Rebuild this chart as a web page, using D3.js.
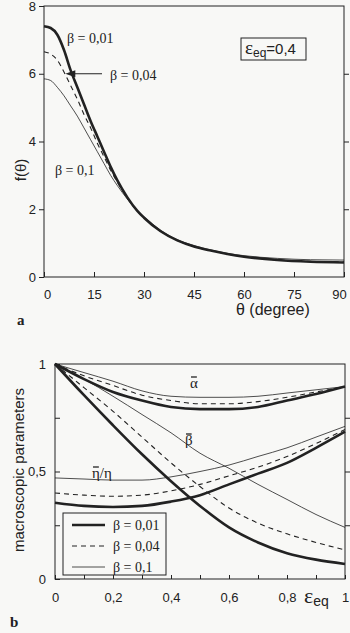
<!DOCTYPE html>
<html>
<head>
<meta charset="utf-8">
<script src="https://cdn.jsdelivr.net/npm/d3@7"></script>
<style>
  body { margin: 0; background: #f8f8f6; }
  svg { display: block; }
</style>
</head>
<body>
<div class="canvas"></div>
<script>
// ---- data (a): f(theta) for three beta values
const thetaA = [0, 2, 4, 6, 8, 10, 12, 14, 16, 18, 20, 22, 25, 28, 30, 35, 40, 45, 50, 55, 60, 70, 80, 90];
const fBeta001 = [7.4, 7.35, 7.15, 6.7, 6.1, 5.6, 5.1, 4.6, 4.15, 3.7, 3.25, 2.85, 2.35, 1.95, 1.75, 1.35, 1.08, 0.9, 0.78, 0.68, 0.6, 0.5, 0.45, 0.43];
const fBeta004 = [6.65, 6.58, 6.4, 6.05, 5.65, 5.25, 4.8, 4.4, 3.95, 3.55, 3.15, 2.8, 2.33, 1.95, 1.75, 1.35, 1.08, 0.9, 0.78, 0.68, 0.6, 0.51, 0.46, 0.45];
const fBeta01  = [5.85, 5.8, 5.6, 5.35, 5.05, 4.75, 4.4, 4.05, 3.7, 3.35, 3.0, 2.7, 2.3, 1.95, 1.78, 1.38, 1.1, 0.93, 0.8, 0.7, 0.63, 0.55, 0.51, 0.5];
const thetaTicks = [0, 15, 30, 45, 60, 75, 90];
const fTicks = [0, 2, 4, 6, 8];

// ---- data (b): macroscopic parameters vs eps_eq
const epsB = [0, 0.1, 0.2, 0.3, 0.4, 0.5, 0.6, 0.7, 0.8, 0.9, 1.0];
const alpha001 = [1, 0.93, 0.87, 0.83, 0.8, 0.79, 0.79, 0.8, 0.83, 0.86, 0.895];
const alpha004 = [1, 0.945, 0.9, 0.855, 0.83, 0.815, 0.815, 0.825, 0.845, 0.87, 0.895];
const alpha01  = [1, 0.96, 0.92, 0.875, 0.85, 0.845, 0.845, 0.85, 0.865, 0.88, 0.895];
const beta001 = [1, 0.855, 0.715, 0.58, 0.455, 0.34, 0.24, 0.17, 0.12, 0.09, 0.07];
const beta004 = [1, 0.89, 0.78, 0.66, 0.54, 0.43, 0.33, 0.26, 0.21, 0.17, 0.135];
const beta01  = [1, 0.93, 0.85, 0.765, 0.68, 0.585, 0.515, 0.44, 0.37, 0.3, 0.24];
const eta001 = [0.355, 0.34, 0.335, 0.34, 0.36, 0.39, 0.44, 0.49, 0.54, 0.61, 0.685];
const eta004 = [0.4, 0.39, 0.385, 0.39, 0.41, 0.44, 0.48, 0.52, 0.57, 0.63, 0.695];
const eta01  = [0.47, 0.465, 0.46, 0.46, 0.475, 0.5, 0.53, 0.57, 0.61, 0.66, 0.71];
const epsTicks = [0, 0.1, 0.2, 0.3, 0.4, 0.5, 0.6, 0.7, 0.8, 0.9, 1];
const epsLabels = [0, 0.2, 0.4, 0.6, 0.8, 1];
const parTicks = [0, 0.25, 0.5, 0.75, 1];
const parLabels = [0, 0.5, 1];

const legendNames = ["β = 0,01", "β = 0,04", "β = 0,1"];

const ink = "#222";
const bg = "#f8f8f6";
const sans = "'Liberation Sans', Arial, sans-serif";
const serif = "'Liberation Serif', 'Times New Roman', serif";
const styles = [
  {w: 2.6, dash: null},
  {w: 1.1, dash: "5,4"},
  {w: 0.8, dash: null}
];
const comma = d => String(d).replace(".", ",");

const svg = d3.select('.canvas')
  .append('svg')
  .attr('width', 350)
  .attr('height', 633);

svg.append('rect').attr('width', 350).attr('height', 633).attr('fill', bg);

// ================= panel a =================
const xA = d3.scaleLinear().domain([0, 90]).range([44, 344]);
const yA = d3.scaleLinear().domain([0, 8]).range([277, 6]);

const gA = svg.append('g');
gA.append('rect')
  .attr('x', xA(0)).attr('y', yA(8))
  .attr('width', xA(90) - xA(0)).attr('height', yA(0) - yA(8))
  .attr('fill', 'none').attr('stroke', ink).attr('stroke-width', 1);

const axA_bottom = gA.append('g').attr('transform', `translate(0,${yA(0)})`)
  .call(d3.axisBottom(xA).tickValues(thetaTicks).tickSize(-5).tickPadding(13).tickFormat(d3.format('d')));
// nudge end labels inwards like the print
axA_bottom.selectAll('.tick text').attr('dx', d => d === 0 ? 3 : d === 90 ? -5 : 0);
gA.append('g').attr('transform', `translate(${xA(0)},0)`)
  .call(d3.axisLeft(yA).tickValues(fTicks).tickSize(5).tickPadding(3).tickFormat(d3.format('d')));
gA.append('g').attr('transform', `translate(${xA(90)},0)`)
  .call(d3.axisLeft(yA).tickValues([2, 4, 6]).tickSize(-5).tickFormat(''));

const lineA = d3.line().curve(d3.curveMonotoneX);
[fBeta001, fBeta004, fBeta01].forEach((vals, i) => {
  gA.append('path')
    .datum(thetaA.map((t, j) => [xA(t), yA(vals[j])]))
    .attr('d', lineA)
    .attr('fill', 'none')
    .attr('stroke', ink)
    .attr('stroke-width', styles[i].w)
    .attr('stroke-dasharray', styles[i].dash);
});

// curve labels
gA.append('text').attr('x', 67).attr('y', 43).text(legendNames[0])
  .attr('font-family', serif).attr('font-size', 14).attr('fill', ink);
gA.append('text').attr('x', 110).attr('y', 80).text(legendNames[1])
  .attr('font-family', serif).attr('font-size', 14).attr('fill', ink);
gA.append('text').attr('x', 55).attr('y', 175).text(legendNames[2])
  .attr('font-family', serif).attr('font-size', 14).attr('fill', ink);

// arrow pointing at the dashed curve
const ay = yA(6), tipX = xA(6.4), tailX = xA(17.4);
gA.append('line')
  .attr('x1', tailX).attr('y1', ay).attr('x2', tipX + 8).attr('y2', ay)
  .attr('stroke', ink).attr('stroke-width', 1);
gA.append('path')
  .attr('d', `M${tipX},${ay} L${tipX + 10},${ay - 3.5} L${tipX + 10},${ay + 3.5} Z`)
  .attr('fill', ink);

// eps_eq box
gA.append('rect').attr('x', 241).attr('y', 38).attr('width', 65).attr('height', 22)
  .attr('fill', 'none').attr('stroke', ink).attr('stroke-width', 1);
const epsBox = gA.append('text').attr('x', 245).attr('y', 54).attr('fill', ink).attr('font-family', sans);
epsBox.append('tspan').text('ε').attr('font-size', 19).attr('font-family', serif);
epsBox.append('tspan').text('eq').attr('font-size', 12).attr('dy', 3);
epsBox.append('tspan').text('=0,4').attr('font-size', 15).attr('dy', -3);

// axis titles
gA.append('text').attr('x', 236).attr('y', 315).text('θ (degree)')
  .attr('font-family', sans).attr('font-size', 16).attr('fill', ink);
gA.append('text').attr('transform', 'translate(26,170) rotate(-90)').attr('text-anchor', 'middle')
  .text('f(θ)').attr('font-family', sans).attr('font-size', 15).attr('fill', ink);
gA.append('text').attr('x', 17).attr('y', 325).text('a')
  .attr('font-family', serif).attr('font-weight', 'bold').attr('font-size', 15).attr('fill', ink);

// ================= panel b =================
const xB = d3.scaleLinear().domain([0, 1]).range([55, 345]);
const yB = d3.scaleLinear().domain([0, 1]).range([579, 364]);

const gB = svg.append('g');
gB.append('rect')
  .attr('x', xB(0)).attr('y', yB(1))
  .attr('width', xB(1) - xB(0)).attr('height', yB(0) - yB(1))
  .attr('fill', 'none').attr('stroke', ink).attr('stroke-width', 1);

gB.append('g').attr('transform', `translate(0,${yB(0)})`)
  .call(d3.axisBottom(xB).tickValues(epsTicks).tickSize(-4).tickFormat(''));
gB.append('g').attr('transform', `translate(0,${yB(0)})`)
  .call(d3.axisBottom(xB).tickValues(epsLabels).tickSize(0).tickPadding(14).tickFormat(comma));
gB.append('g').attr('transform', `translate(${xB(0)},0)`)
  .call(d3.axisLeft(yB).tickValues(parTicks).tickSize(-5).tickFormat(''));
gB.append('g').attr('transform', `translate(${xB(0)},0)`)
  .call(d3.axisLeft(yB).tickValues(parLabels).tickSize(0).tickPadding(9).tickFormat(comma));
gB.append('g').attr('transform', `translate(${xB(1)},0)`)
  .call(d3.axisLeft(yB).tickValues([0.25, 0.5, 0.75]).tickSize(-5).tickFormat(''));

const lineB = d3.line().curve(d3.curveMonotoneX);
const groupsB = [
  [alpha001, alpha004, alpha01],
  [beta001, beta004, beta01],
  [eta001, eta004, eta01]
];
groupsB.forEach(group => {
  group.forEach((vals, i) => {
    gB.append('path')
      .datum(epsB.map((e, j) => [xB(e), yB(vals[j])]))
      .attr('d', lineB)
      .attr('fill', 'none')
      .attr('stroke', ink)
      .attr('stroke-width', styles[i].w)
      .attr('stroke-dasharray', styles[i].dash);
  });
});

// barred labels
function barLabel(x, y, txt) {
  const t = gB.append('text').attr('x', x).attr('y', y).text(txt)
    .attr('font-family', serif).attr('font-size', 15).attr('fill', ink);
  const w = t.node().getComputedTextLength();
  gB.append('line').attr('x1', x + 1).attr('x2', x + w - 1)
    .attr('y1', y - 11).attr('y2', y - 11).attr('stroke', ink).attr('stroke-width', 1.3);
  return w;
}
barLabel(190, 388, 'α');
barLabel(185, 445, 'β');
const wEta = barLabel(92, 478, 'η');
gB.append('text').attr('x', 92 + wEta).attr('y', 478).text('/η')
  .attr('font-family', serif).attr('font-size', 15).attr('fill', ink);

// legend
const leg = gB.append('g');
leg.append('rect').attr('x', 63).attr('y', 513).attr('width', 103).attr('height', 62)
  .attr('fill', bg).attr('stroke', ink).attr('stroke-width', 1);
legendNames.forEach((name, i) => {
  const yy = 525 + i * 21;
  leg.append('line').attr('x1', 72).attr('x2', 105).attr('y1', yy).attr('y2', yy)
    .attr('stroke', ink).attr('stroke-width', styles[i].w).attr('stroke-dasharray', styles[i].dash);
  leg.append('text').attr('x', 113).attr('y', yy + 5).text(name)
    .attr('font-family', serif).attr('font-size', 14).attr('fill', ink);
});

// axis titles
const epsT = gB.append('text').attr('x', 304).attr('y', 603).attr('fill', ink).attr('font-family', sans);
epsT.append('tspan').text('ε').attr('font-size', 22).attr('font-family', serif);
epsT.append('tspan').text('eq').attr('font-size', 14).attr('dy', 3);
gB.append('text').attr('transform', 'translate(24,470) rotate(-90)').attr('text-anchor', 'middle')
  .text('macroscopic parameters').attr('font-family', sans).attr('font-size', 15).attr('fill', ink);
gB.append('text').attr('x', 10).attr('y', 627).text('b')
  .attr('font-family', serif).attr('font-weight', 'bold').attr('font-size', 15).attr('fill', ink);

// axis text styling
svg.selectAll('.tick text').attr('font-family', sans).attr('font-size', 13).attr('fill', ink);
svg.selectAll('.domain').remove();
svg.selectAll('.tick line').attr('stroke', ink);
</script>
</body>
</html>
